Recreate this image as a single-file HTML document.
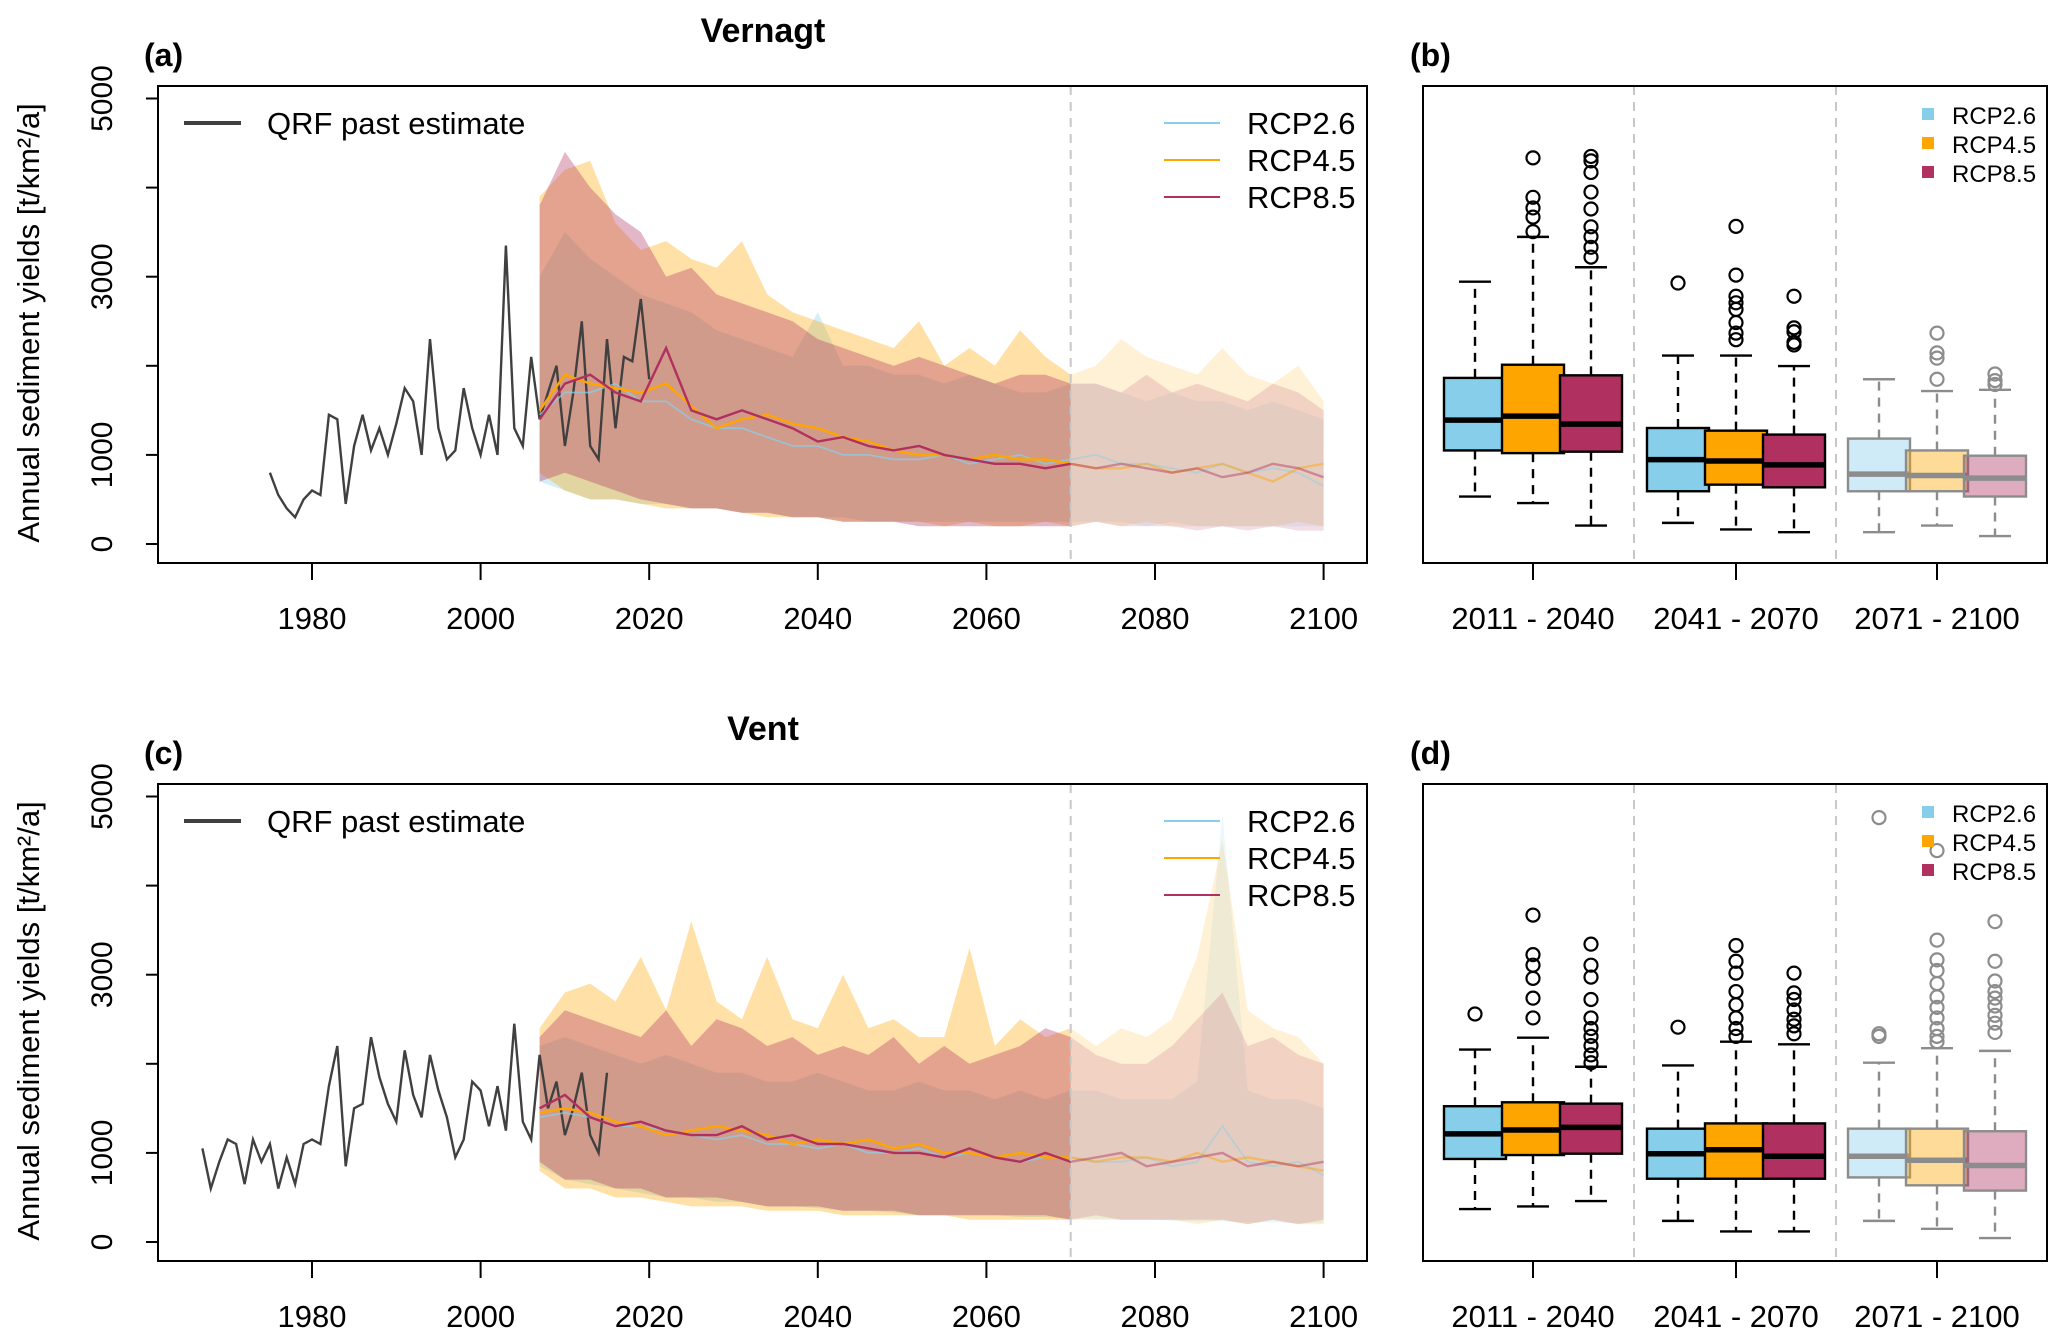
<!DOCTYPE html>
<html><head><meta charset="utf-8"><style>
body{margin:0;background:#fff;}
svg{display:block;font-family:"Liberation Sans",Arial,sans-serif;}
</style></head><body>
<svg id="fig" width="2067" height="1344" viewBox="0 0 2067 1344" xmlns="http://www.w3.org/2000/svg"></svg>
<script>
// ---------- data ----------
const futureYears = [2007,2010,2013,2016,2019,2022,2025,2028,2031,2034,2037,2040,2043,2046,2049,2052,2055,2058,2061,2064,2067,2070,2073,2076,2079,2082,2085,2088,2091,2094,2097,2100];
const vernPastYears = [1975,1976,1977,1978,1979,1980,1981,1982,1983,1984,1985,1986,1987,1988,1989,1990,1991,1992,1993,1994,1995,1996,1997,1998,1999,2000,2001,2002,2003,2004,2005,2006,2007,2008,2009,2010,2011,2012,2013,2014,2015,2016,2017,2018,2019,2020];
const vernPast = [800,550,400,300,500,600,550,1450,1400,450,1100,1450,1050,1300,1000,1350,1750,1600,1000,2300,1300,950,1050,1750,1300,1000,1450,1000,3350,1300,1100,2100,1400,1700,2000,1100,1700,2500,1100,950,2300,1300,2100,2050,2750,1850];
const vernMean85 = [1400,1800,1900,1700,1600,2200,1500,1400,1500,1400,1300,1150,1200,1100,1050,1100,1000,950,900,900,850,900,850,900,850,800,850,750,800,900,850,750];
const vernMean45 = [1500,1900,1800,1750,1700,1800,1550,1300,1400,1450,1350,1300,1200,1150,1050,1000,1000,950,1000,950,950,900,850,850,900,800,850,900,800,700,850,900];
const vernMean26 = [1450,1700,1700,1800,1600,1600,1400,1300,1300,1200,1100,1100,1000,1000,950,950,1000,900,950,1000,900,950,1000,900,900,850,800,900,800,850,800,650];
const vernUp85 = [3800,4400,4000,3700,3500,3000,3100,2800,2700,2600,2500,2300,2200,2100,2000,2100,2000,1900,1800,1900,1900,1800,1800,1700,1900,1700,1800,1700,1600,1800,1700,1500];
const vernLo85 = [700,800,700,600,500,450,400,400,350,350,300,300,250,250,250,200,200,200,200,200,200,200,250,200,200,200,150,200,150,200,150,150];
const vernUp45 = [3900,4200,4300,3600,3300,3400,3200,3100,3400,2800,2600,2500,2400,2300,2200,2500,2000,2200,2000,2400,2100,1900,2000,2300,2100,2000,1900,2200,1900,1800,2000,1600];
const vernLo45 = [800,600,500,500,450,400,400,400,350,300,300,300,250,250,250,250,200,250,200,200,250,200,250,200,250,200,200,200,200,200,250,200];
const vernUp26 = [3000,3500,3200,3000,2800,2700,2600,2400,2300,2200,2100,2600,2000,2000,1900,1900,1800,1900,1800,1700,1700,1800,1800,1700,1600,1700,1600,1600,1500,1600,1500,1400];
const vernLo26 = [700,600,500,500,450,450,400,400,350,350,300,300,300,250,250,250,250,250,250,250,250,250,250,250,200,250,200,200,200,200,200,200];

const ventPastYears = [1967,1968,1969,1970,1971,1972,1973,1974,1975,1976,1977,1978,1979,1980,1981,1982,1983,1984,1985,1986,1987,1988,1989,1990,1991,1992,1993,1994,1995,1996,1997,1998,1999,2000,2001,2002,2003,2004,2005,2006,2007,2008,2009,2010,2011,2012,2013,2014,2015];
const ventPast = [1050,600,900,1150,1100,650,1150,900,1100,600,950,650,1100,1150,1100,1750,2200,850,1500,1550,2300,1850,1550,1350,2150,1650,1400,2100,1700,1400,950,1150,1800,1700,1300,1750,1250,2450,1350,1150,2100,1500,1800,1200,1500,1900,1200,1000,1900];
const ventMean85 = [1500,1650,1400,1300,1350,1250,1200,1200,1300,1150,1200,1100,1100,1050,1000,1000,950,1050,950,900,1000,900,950,1000,850,900,950,1000,850,900,850,900];
const ventMean45 = [1450,1500,1450,1350,1300,1200,1250,1300,1250,1200,1100,1150,1100,1150,1050,1100,1000,1000,950,1000,950,950,900,950,950,900,1000,900,950,900,850,800];
const ventMean26 = [1400,1450,1400,1300,1300,1250,1200,1150,1200,1100,1100,1050,1100,1000,1000,1050,950,1000,950,900,950,950,900,900,950,850,900,1300,900,850,900,750];
const ventUp85 = [2300,2600,2500,2400,2300,2600,2200,2500,2400,2200,2300,2100,2200,2100,2300,2000,2200,2000,2100,2200,2400,2300,2100,2000,2000,2200,2500,2800,2200,2300,2100,2000];
const ventLo85 = [900,700,700,600,600,500,500,500,450,400,400,400,350,350,350,300,300,300,300,300,300,250,300,250,250,250,250,250,200,250,200,250];
const ventUp45 = [2400,2800,2900,2700,3200,2600,3600,2700,2500,3200,2500,2400,3000,2400,2500,2300,2300,3300,2200,2500,2300,2400,2200,2400,2300,2500,3200,4500,2600,2400,2300,2000];
const ventLo45 = [800,600,600,500,500,450,400,400,400,350,350,350,300,300,300,300,300,250,250,250,250,250,250,250,250,250,200,250,200,250,200,200];
const ventUp26 = [2200,2300,2200,2100,2000,2100,2000,1900,1900,1800,1800,1900,1800,1700,1700,1800,1700,1700,1600,1700,1600,1700,1700,1600,1600,1600,1800,4800,1700,1600,1600,1500];
const ventLo26 = [850,700,650,600,550,500,500,450,450,400,400,380,350,350,330,300,300,300,300,280,280,260,260,250,250,240,230,230,220,220,210,210];

const periods = ["2011 - 2040","2041 - 2070","2071 - 2100"];
const scenarios = ["RCP2.6","RCP4.5","RCP8.5"];
// box stats: [lowWhisker, q1, median, q3, highWhisker]
const vernBox26 = [[532,1050,1390,1864,2944],[237,592,947,1302,2115],[133,592,784,1183,1849]];
const vernBox45 = [[459,1020,1435,2012,3447],[163,666,932,1272,2115],[207,592,769,1050,1716]];
const vernBox85 = [[207,1036,1346,1893,3106],[133,636,888,1228,1997],[89,533,740,991,1731]];
const vernOut26 = [[],[2929],[]];
const vernOut45 = [[4334,3891,3772,3669,3506],[3565,3018,2781,2707,2633,2485,2367,2293],[2367,2145,2086,1849]];
const vernOut85 = [[4350,4300,4170,3950,3760,3560,3450,3330,3220],[2781,2426,2382,2263,2234],[1908,1834,1790]];
const ventBox26 = [[370,932,1213,1524,2160],[237,710,991,1272,1982],[237,725,962,1272,2012]];
const ventBox45 = [[399,976,1257,1568,2293],[118,710,1036,1331,2248],[148,636,917,1272,2175]];
const ventBox85 = [[459,991,1287,1553,1967],[118,710,962,1331,2219],[44,577,858,1243,2145]];
const ventOut26 = [[2559],[2411],[4763,2337,2308]];
const ventOut45 = [[3669,3225,3107,2959,2737,2515],[3328,3151,3018,2811,2663,2515,2396,2308],[4393,3388,3166,3047,2900,2751,2633,2515,2396,2308,2248]];
const ventOut85 = [[3343,3107,2973,2722,2515,2396,2308,2204,2100,2012],[3018,2796,2722,2604,2500,2426,2337],[3595,3151,2929,2811,2737,2648,2544,2456,2352]];
const yTicks = [0,1000,2000,3000,4000,5000];
const yTickLabels = ["0","1000","","3000","","5000"];
const xTicks = [1980,2000,2020,2040,2060,2080,2100];

// ---------- drawing ----------
const NS="http://www.w3.org/2000/svg";
const svg=document.getElementById('fig');
const COL={"RCP2.6":"#87ceeb","RCP4.5":"#ffa500","RCP8.5":"#b03060"};
function mk(tag,attrs,parent){const e=document.createElementNS(NS,tag);for(const k in attrs)e.setAttribute(k,attrs[k]);(parent||svg).appendChild(e);return e;}
function txt(s,attrs,parent){const e=mk('text',attrs,parent);e.textContent=s;return e;}

const xS=yr=>312+(yr-1980)*8.43;
const SPLIT=2070;

function drawPanelTS(off,title,letter,id,past,pastYears,means,ups,los){
  const yS=v=>off+544-v*0.0891;
  const g=mk('g',{});
  
  
  txt(title,{x:763,y:off+42,'text-anchor':'middle','font-size':34,'font-weight':'bold'},g);
  txt(letter,{x:144,y:off+66,'font-size':32,'font-weight':'bold'},g);
  const cid='clp'+id;
  const d=mk('defs',{},g);
  const c1=mk('clipPath',{id:cid+'a'},d);mk('rect',{x:0,y:0,width:xS(SPLIT),height:1344},c1);
  const c2=mk('clipPath',{id:cid+'b'},d);mk('rect',{x:xS(SPLIT),y:0,width:2067,height:1344},c2);
  const names=["RCP2.6","RCP4.5","RCP8.5"];
  for(let k=0;k<3;k++){
    const sc=names[k];
    let p='';
    futureYears.forEach((yr,i)=>{p+=(i?'L':'M')+xS(yr).toFixed(1)+','+yS(ups[k][i]).toFixed(1);});
    for(let i=futureYears.length-1;i>=0;i--)p+='L'+xS(futureYears[i]).toFixed(1)+','+yS(los[k][i]).toFixed(1);
    p+='Z';
    const b1=mk('path',{d:p,fill:COL[sc],'fill-opacity':0.35,'clip-path':'url(#'+cid+'a)'},g);
    
    
    const b2=mk('path',{d:p,fill:COL[sc],'fill-opacity':0.16,'clip-path':'url(#'+cid+'b)'},g);
    
    
  }
  let pp='';pastYears.forEach((yr,i)=>{pp+=(i?'L':'M')+xS(yr).toFixed(1)+','+yS(past[i]).toFixed(1);});
  const pl=mk('path',{d:pp,fill:'none',stroke:'#404040','stroke-width':2.4},g);
  
  
  for(let k=0;k<3;k++){
    const sc=names[k];
    let p='';futureYears.forEach((yr,i)=>{p+=(i?'L':'M')+xS(yr).toFixed(1)+','+yS(means[k][i]).toFixed(1);});
    const w=k==0?1.8:2.4;
    const l1=mk('path',{d:p,fill:'none',stroke:COL[sc],'stroke-width':w,'clip-path':'url(#'+cid+'a)','stroke-opacity':k==0?0.7:1},g);
    
    
    const l2=mk('path',{d:p,fill:'none',stroke:COL[sc],'stroke-width':w,'stroke-opacity':0.45,'clip-path':'url(#'+cid+'b)'},g);
    
    
  }
  mk('line',{x1:xS(SPLIT),x2:xS(SPLIT),y1:off+86,y2:off+563,stroke:'#c8c8c8','stroke-width':2,'stroke-dasharray':'9,7'},g);
  const fr=mk('rect',{x:158,y:off+86,width:1209,height:477,fill:'none',stroke:'#000','stroke-width':2},g);
  
  yTicks.forEach((v,i)=>{
    mk('line',{x1:146,x2:158,y1:yS(v),y2:yS(v),stroke:'#000','stroke-width':2},g);
    if(yTickLabels[i]){const t=txt(yTickLabels[i],{x:112,y:yS(v),'font-size':30,'text-anchor':'middle',transform:'rotate(-90 112 '+yS(v)+')'},g);}
  });
  const yl=txt('Annual sediment yields [t/km²/a]',{x:39,y:off+323,'font-size':31,'text-anchor':'middle',transform:'rotate(-90 39 '+(off+323)+')'},g);
  
  xTicks.forEach(v=>{
    mk('line',{x1:xS(v),x2:xS(v),y1:off+563,y2:off+580,stroke:'#000','stroke-width':2},g);
    txt(String(v),{x:xS(v),y:off+629,'font-size':31,'text-anchor':'middle'},g);
  });
  const lg=mk('g',{},g);
  mk('line',{x1:184,x2:241,y1:off+123,y2:off+123,stroke:'#404040','stroke-width':4},lg);
  txt('QRF past estimate',{x:267,y:off+134,'font-size':31},lg);
  names.forEach((sc,k)=>{
    mk('line',{x1:1164,x2:1220,y1:off+123+k*37,y2:off+123+k*37,stroke:COL[sc],'stroke-width':2},lg);
    txt(sc,{x:1247,y:off+134+k*37,'font-size':31},lg);
  });
}

function drawPanelBox(off,letter,id,boxes,outs){
  const yS=v=>off+544-v*0.0891;
  const g=mk('g',{});
  
  
  txt(letter,{x:1410,y:off+66,'font-size':32,'font-weight':'bold'},g);
  [1634,1836].forEach(x=>mk('line',{x1:x,x2:x,y1:off+86,y2:off+563,stroke:'#c8c8c8','stroke-width':2,'stroke-dasharray':'9,7'},g));
  const centers=[1533,1736,1937];
  const offs=[-58,0,58];
  const names=["RCP2.6","RCP4.5","RCP8.5"];
  for(let p=0;p<3;p++){
    for(let k=0;k<3;k++){
      const s=boxes[k][p];const cx=centers[p]+offs[k];const sc=names[k];
      const late=p==2;
      const stroke=late?'#8c8c8c':'#000';
      const bg=mk('g',{},g);
      
      
      mk('line',{x1:cx,x2:cx,y1:yS(s[3]),y2:yS(s[4]),stroke:stroke,'stroke-width':2.4,'stroke-dasharray':'9,7'},bg);
      mk('line',{x1:cx,x2:cx,y1:yS(s[1]),y2:yS(s[0]),stroke:stroke,'stroke-width':2.4,'stroke-dasharray':'9,7'},bg);
      mk('line',{x1:cx-16,x2:cx+16,y1:yS(s[4]),y2:yS(s[4]),stroke:stroke,'stroke-width':2.4},bg);
      mk('line',{x1:cx-16,x2:cx+16,y1:yS(s[0]),y2:yS(s[0]),stroke:stroke,'stroke-width':2.4},bg);
      mk('rect',{x:cx-31,y:yS(s[3]),width:62,height:yS(s[1])-yS(s[3]),fill:COL[sc],'fill-opacity':late?0.4:1,stroke:stroke,'stroke-width':2.4},bg);
      mk('line',{x1:cx-31,x2:cx+31,y1:yS(s[2]),y2:yS(s[2]),stroke:stroke,'stroke-width':5.5},bg);
      outs[k][p].forEach(v=>{const o=mk('circle',{cx:cx,cy:yS(v),r:6.5,fill:'none',stroke:stroke,'stroke-width':2.2},bg);});
    }
    mk('line',{x1:centers[p],x2:centers[p],y1:off+563,y2:off+580,stroke:'#000','stroke-width':2},g);
    txt(periods[p],{x:centers[p],y:off+629,'font-size':31,'text-anchor':'middle'},g);
  }
  mk('rect',{x:1423,y:off+86,width:624,height:477,fill:'none',stroke:'#000','stroke-width':2},g);
  const lg=mk('g',{},g);
  names.forEach((sc,k)=>{
    mk('rect',{x:1922,y:off+108+k*29,width:12,height:12,fill:COL[sc]},lg);
    txt(sc,{x:1952,y:off+124+k*29,'font-size':24},lg);
  });
}

drawPanelTS(0,'Vernagt','(a)','vernagt',vernPast,vernPastYears,[vernMean26,vernMean45,vernMean85],[vernUp26,vernUp45,vernUp85],[vernLo26,vernLo45,vernLo85]);
drawPanelBox(0,'(b)','vernagt',[vernBox26,vernBox45,vernBox85],[vernOut26,vernOut45,vernOut85]);
drawPanelTS(698,'Vent','(c)','vent',ventPast,ventPastYears,[ventMean26,ventMean45,ventMean85],[ventUp26,ventUp45,ventUp85],[ventLo26,ventLo45,ventLo85]);
drawPanelBox(698,'(d)','vent',[ventBox26,ventBox45,ventBox85],[ventOut26,ventOut45,ventOut85]);
</script>
</body></html>
